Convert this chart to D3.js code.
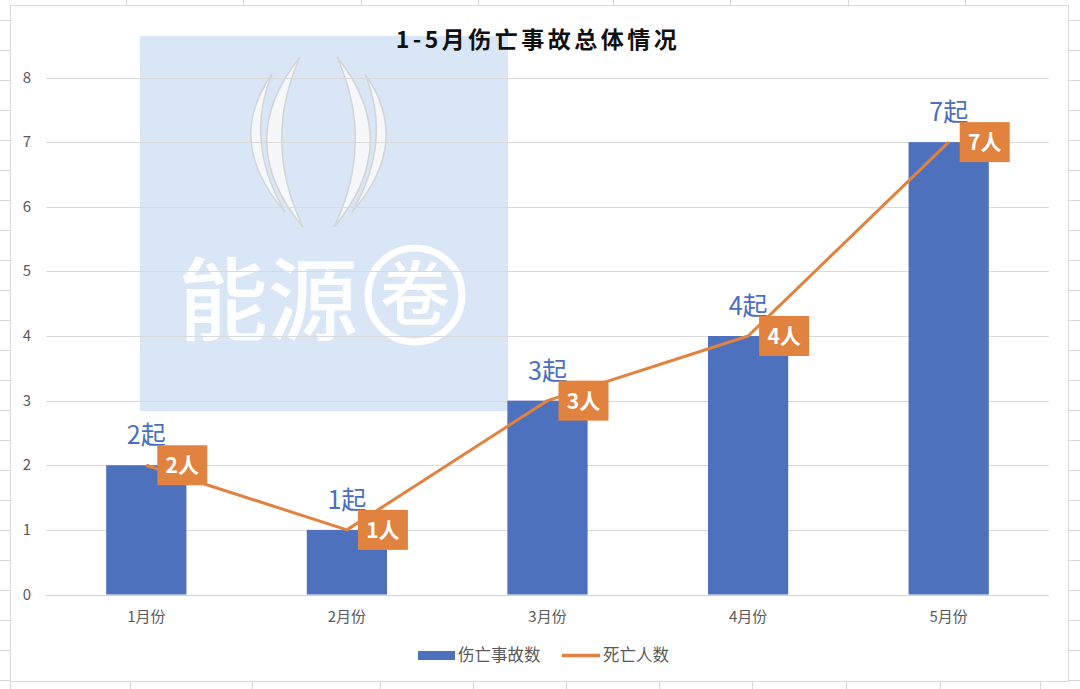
<!DOCTYPE html>
<html>
<head>
<meta charset="utf-8">
<script src="https://cdn.jsdelivr.net/npm/d3@7"></script>
<style>
  html, body { margin: 0; padding: 0; background: #fff; }
  svg { display: block; font-family: "Noto Sans CJK SC", "Noto Sans", sans-serif; }
</style>
</head>
<body>
<div id="chart"></div>
<script>
var months = ['1月份', '2月份', '3月份', '4月份', '5月份'];
var accidents = [2, 1, 3, 4, 7];   // 伤亡事故数
var deaths = [2, 1, 3, 4, 7];      // 死亡人数
var yTicks = [0, 1, 2, 3, 4, 5, 6, 7, 8];
var title = '1-5月伤亡事故总体情况';
var seriesNames = ['伤亡事故数', '死亡人数'];

var width = 1080, height = 689;
var blue = '#4e71be', orange = '#e1823f', grey = '#595959';

var svg = d3.select('#chart').append('svg')
    .attr('width', width).attr('height', height);

// Spreadsheet cells behind the chart
var cellLines = svg.append('g').attr('stroke', '#d6d6d6').attr('stroke-width', 1);
d3.range(20, height, 30).forEach(function(y) {
    cellLines.append('line').attr('x1', 0).attr('x2', 10).attr('y1', y + 0.5).attr('y2', y + 0.5);
    cellLines.append('line').attr('x1', 1069).attr('x2', width).attr('y1', y + 0.5).attr('y2', y + 0.5);
});
[126, 243, 361, 478, 613, 730, 848, 965].forEach(function(x) {
    cellLines.append('line').attr('x1', x + 0.5).attr('x2', x + 0.5).attr('y1', 0).attr('y2', 5);
});
[10, 130, 252, 380, 473, 566, 659, 752, 846, 940, 1040].forEach(function(x) {
    cellLines.append('line').attr('x1', x + 0.5).attr('x2', x + 0.5).attr('y1', 682).attr('y2', height);
});

// Chart box
svg.append('rect')
    .attr('x', 10.5).attr('y', 5.5).attr('width', 1058).attr('height', 676)
    .attr('fill', '#fff').attr('stroke', '#d9d9d9');

var x = d3.scaleBand().domain(months).range([46, 1049]).paddingInner(0.6).paddingOuter(0.3);
var y = d3.scaleLinear().domain([0, 8]).range([594.5, 77.5]);

// Watermark block
var wm = svg.append('g');
wm.append('rect').attr('x', 140).attr('y', 36).attr('width', 368).attr('height', 375)
    .attr('fill', '#d8e6f5');

// Gridlines
svg.append('g').selectAll('line').data(yTicks).join('line')
    .attr('x1', 46).attr('x2', 1049)
    .attr('y1', function(d) { return Math.round(y(d)) + 0.5; })
    .attr('y2', function(d) { return Math.round(y(d)) + 0.5; })
    .attr('stroke', function(d) { return d === 0 ? '#d0d0d0' : '#d9d9d9'; })
    .attr('stroke-width', 1.2);

// Watermark logo over the gridlines
var arcs = [
    'M300,57 Q232,142 303,227 Q262,142 300,57 Z',
    'M272,74 Q224,142 285,212 Q244,142 272,74 Z',
    'M337,57 Q405,142 334,227 Q375,142 337,57 Z',
    'M365,74 Q413,142 352,212 Q393,142 365,74 Z'
];
wm.selectAll('path').data(arcs).join('path')
    .attr('d', function(d) { return d; })
    .attr('fill', '#f6f7f8').attr('stroke', '#d2d4d6').attr('stroke-width', 1.5);
wm.append('text').attr('x', 268).attr('y', 333)
    .attr('text-anchor', 'middle')
    .attr('font-size', 90).attr('font-weight', 500)
    .attr('fill', '#ffffff').attr('fill-opacity', 0.95)
    .text('能源');
wm.append('circle').attr('cx', 415).attr('cy', 295).attr('r', 47)
    .attr('fill', 'none').attr('stroke', '#fff').attr('stroke-width', 7);
wm.append('text').attr('x', 415).attr('y', 320)
    .attr('text-anchor', 'middle')
    .attr('font-size', 70).attr('font-weight', 500)
    .attr('fill', '#fff')
    .text('卷');

// Title
svg.append('text')
    .attr('x', 538).attr('y', 48)
    .attr('text-anchor', 'middle')
    .attr('font-size', 23).attr('font-weight', 700)
    .attr('letter-spacing', 3.5)
    .attr('fill', '#111')
    .text(title);

// Y axis labels
svg.append('g').selectAll('text').data(yTicks).join('text')
    .attr('x', 27).attr('y', function(d) { return y(d) + 5; })
    .attr('text-anchor', 'middle')
    .attr('font-size', 15).attr('fill', grey)
    .text(function(d) { return d; });

// X axis labels
svg.append('g').selectAll('text').data(months).join('text')
    .attr('x', function(d) { return x(d) + x.bandwidth() / 2; })
    .attr('y', 622)
    .attr('text-anchor', 'middle')
    .attr('font-size', 15).attr('fill', grey)
    .text(function(d) { return d; });

// Bars
svg.append('g').selectAll('rect').data(accidents).join('rect')
    .attr('x', function(d, i) { return x(months[i]); })
    .attr('y', function(d) { return y(d); })
    .attr('width', x.bandwidth())
    .attr('height', function(d) { return y(0) - y(d); })
    .attr('fill', blue);

// Bar labels
svg.append('g').selectAll('text').data(accidents).join('text')
    .attr('x', function(d, i) { return x(months[i]) + x.bandwidth() / 2; })
    .attr('y', function(d) { return y(d) - 21; })
    .attr('text-anchor', 'middle')
    .attr('font-size', 25).attr('fill', '#4a6fc0')
    .text(function(d) { return d + '起'; });

// Line
var cx = function(d, i) { return x(months[i]) + x.bandwidth() / 2; };
svg.append('path')
    .datum(deaths)
    .attr('d', d3.line().x(cx).y(function(d) { return y(d); }))
    .attr('fill', 'none').attr('stroke', orange).attr('stroke-width', 3)
    .attr('stroke-linejoin', 'round');

// Line labels (boxes)
var boxes = svg.append('g').selectAll('g').data(deaths).join('g')
    .attr('transform', function(d, i) { return 'translate(' + (cx(d, i) + 11) + ',' + (y(d) - 20) + ')'; });
boxes.append('rect').attr('width', 50).attr('height', 40).attr('fill', orange);
boxes.append('text').attr('x', 25).attr('y', 28)
    .attr('text-anchor', 'middle')
    .attr('font-size', 21).attr('font-weight', 700).attr('fill', '#fff')
    .text(function(d) { return d + '人'; });

// Legend
var legend = svg.append('g');
legend.append('rect').attr('x', 418).attr('y', 651).attr('width', 37).attr('height', 9).attr('fill', blue);
legend.append('text').attr('x', 458).attr('y', 661).attr('font-size', 16.5).attr('fill', grey).text(seriesNames[0]);
legend.append('line').attr('x1', 562).attr('x2', 600).attr('y1', 655.5).attr('y2', 655.5)
    .attr('stroke', orange).attr('stroke-width', 3.5);
legend.append('text').attr('x', 603).attr('y', 661).attr('font-size', 16.5).attr('fill', grey).text(seriesNames[1]);
</script>
</body>
</html>
